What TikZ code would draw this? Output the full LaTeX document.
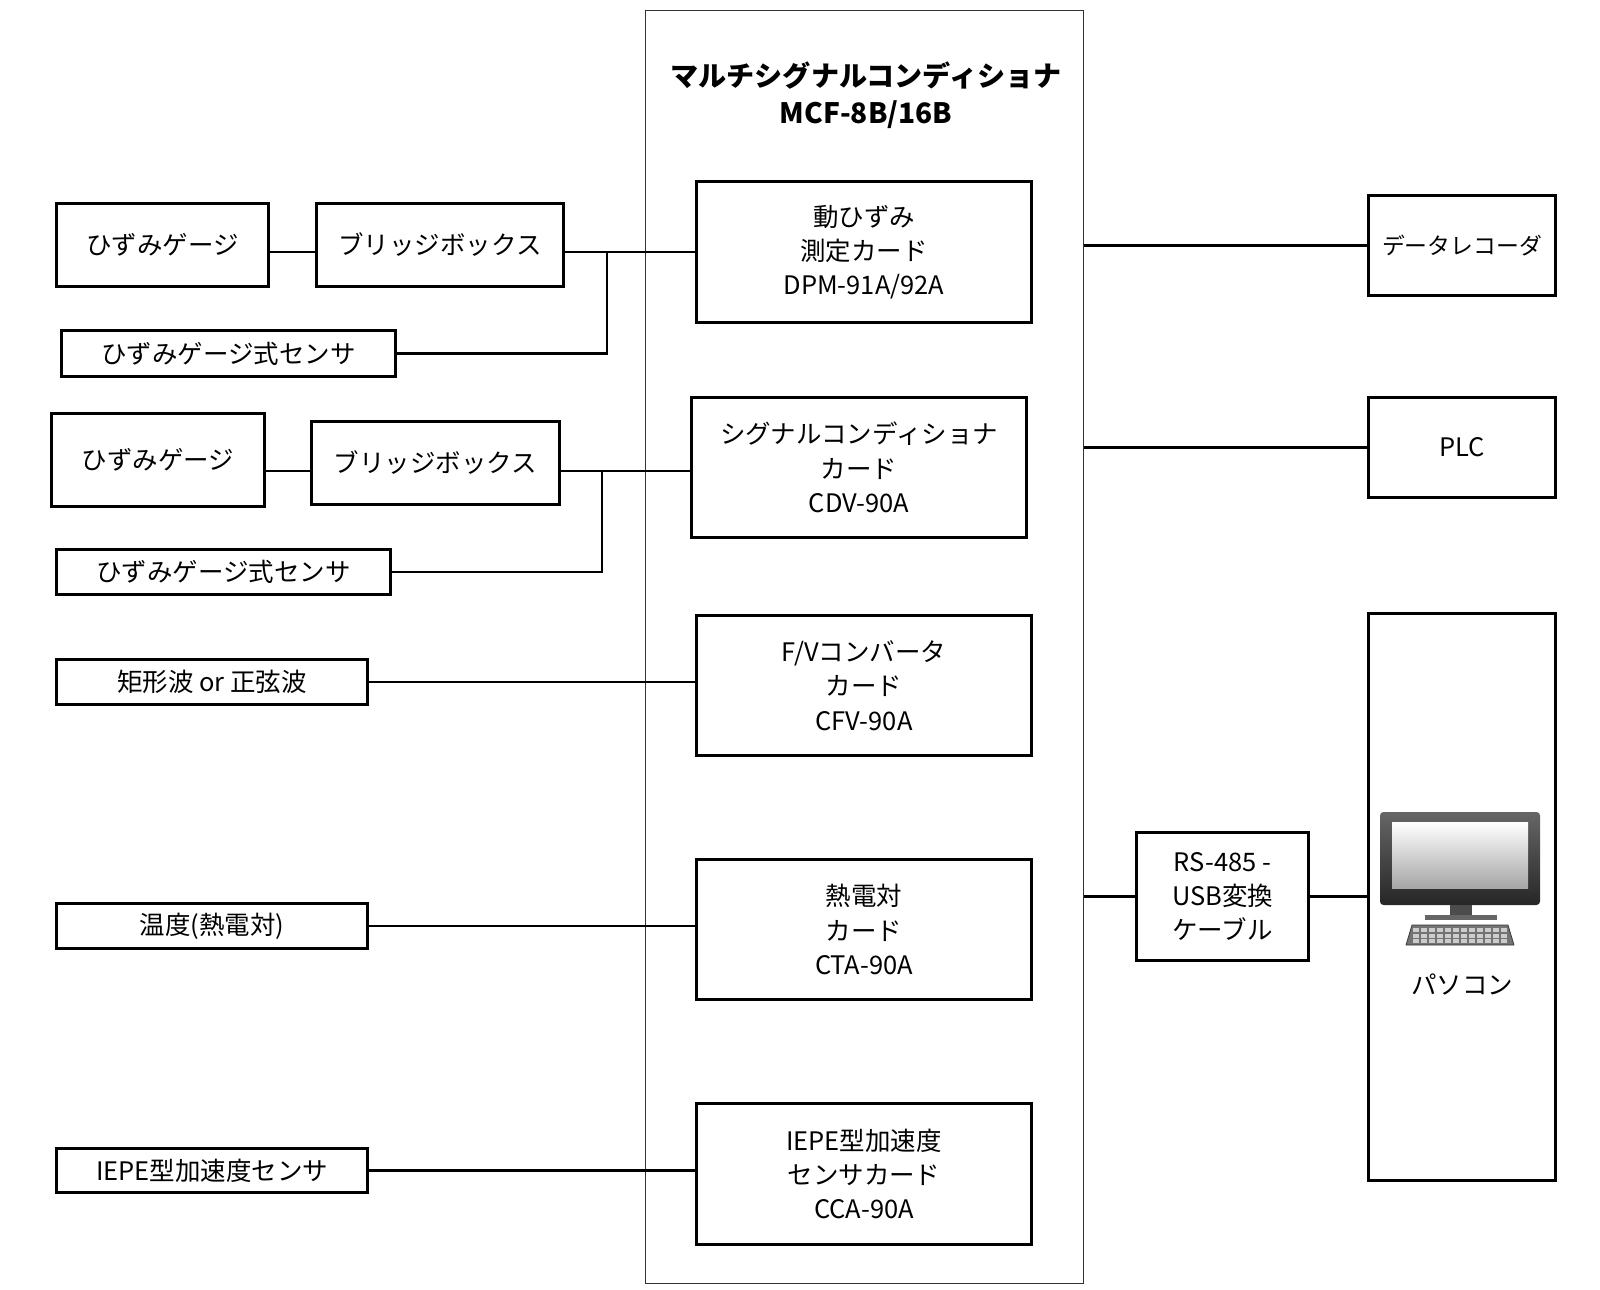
\documentclass[tikz,border=0pt]{standalone}
\usepackage{fontspec}
\setmainfont{Noto Sans CJK JP}
\begin{document}
\begin{tikzpicture}[x=0.02cm,y=-0.02cm,
 bx/.style={draw,line width=1.7pt,align=center,font=\fontsize{14.5}{19.5}\selectfont,inner sep=0pt},
 ln/.style={line width=1.7pt}]
\useasboundingbox (0,0) rectangle (1600,1290);
\node[draw=black!80,line width=0.8pt,minimum width=438*0.02cm,minimum height=1273*0.02cm,anchor=north west] (main) at (645,10) {};
\node[font=\fontsize{16}{21}\selectfont\bfseries,align=center] (title) at (866,95) {マルチシグナルコンディショナ\\MCF-8B/16B};
\newcommand\bxat[6]{\node[bx,minimum width=#4*0.02cm-1.7pt,minimum height=#5*0.02cm-1.7pt,anchor=north west] (#1) at (#2,#3) {#6};}
\bxat{c1}{695}{180}{338}{144}{動ひずみ\\測定カード\\DPM-91A/92A}
\bxat{c2}{690}{396}{338}{143}{シグナルコンディショナ\\カード\\CDV-90A}
\bxat{c3}{695}{614}{338}{143}{F/Vコンバータ\\カード\\CFV-90A}
\bxat{c4}{695}{858}{338}{143}{熱電対\\カード\\CTA-90A}
\bxat{c5}{695}{1102}{338}{144}{IEPE型加速度\\センサカード\\CCA-90A}
\bxat{g1}{55}{202}{215}{86}{ひずみゲージ}
\bxat{b1}{315}{202}{250}{86}{ブリッジボックス}
\bxat{s1}{60}{329}{337}{49}{ひずみゲージ式センサ}
\bxat{g2}{50}{412}{216}{96}{ひずみゲージ}
\bxat{b2}{310}{420}{251}{86}{ブリッジボックス}
\bxat{s2}{55}{548}{337}{48}{ひずみゲージ式センサ}
\bxat{w}{55}{658}{314}{48}{矩形波 or 正弦波}
\bxat{t}{55}{902}{314}{48}{温度(熱電対)}
\bxat{ie}{55}{1147}{314}{47}{IEPE型加速度センサ}
\bxat{dr}{1367}{194}{190}{103}{\fontsize{13}{17}\selectfont データレコーダ}
\bxat{plc}{1367}{396}{190}{103}{PLC}
\bxat{pc}{1367}{612}{190}{570}{}
\bxat{rs}{1135}{831}{175}{131}{RS-485 -\\USB変換\\ケーブル}
\coordinate (y1) at (0,252);
\coordinate (y2) at (0,471);
\draw[ln] (g1.east|-y1) -- (b1.west|-y1);
\draw[ln] (b1.east|-y1) -- (c1.west|-y1);
\coordinate (j1) at (607,252);
\draw[ln] (j1) |- (s1.east);
\draw[ln] (g2.east|-y2) -- (b2.west|-y2);
\draw[ln] (b2.east|-y2) -- (c2.west|-y2);
\coordinate (j2) at (602,471);
\draw[ln] (j2) |- (s2.east);
\draw[ln] (w.east) -- (w.east-|c3.west);
\draw[ln] (t.east) -- (t.east-|c4.west);
\draw[ln] (ie.east) -- (ie.east-|c5.west);
\draw[ln] (main.east|-dr.west) -- (dr.west);
\draw[ln] (main.east|-plc.west) -- (plc.west);
\draw[ln] (main.east|-rs.west) -- (rs.west);
\draw[ln] (rs.east) -- (rs.east-|pc.west);
% computer
\shade[top color=black!60,bottom color=black!85,rounded corners=2pt] (1380,812) rectangle (1540,905);
\shade[top color=white,bottom color=black!35] (1392,822) rectangle (1528,888);
\fill[black!70] (1450,905) rectangle (1472,915);
\fill[black!60] (1425,915) rectangle (1497,920);
\fill[black!55,draw=black!80] (1412,925) -- (1508,925) -- (1514,945) -- (1406,945) -- cycle;
\foreach \i in {0,...,11}{\foreach \j in {0,1,2}{\fill[white!80!black] (1413+\i*8,928+\j*5.5) rectangle (1419+\i*8,932+\j*5.5);}}
\node[font=\fontsize{14.5}{19}\selectfont] (pcl) at (1462,985) {パソコン};
\end{tikzpicture}
\end{document}
